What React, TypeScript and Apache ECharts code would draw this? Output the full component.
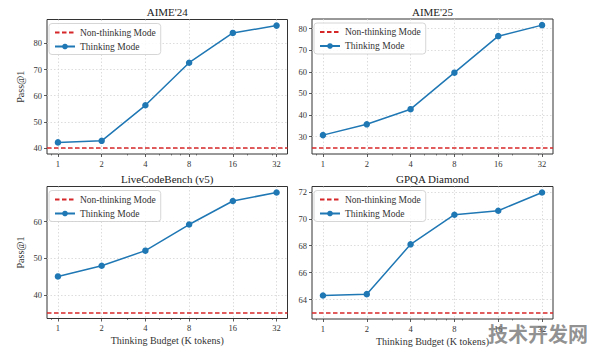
import React, { useEffect, useRef } from "react";
import * as echarts from "echarts";

const budgets = [1, 2, 4, 8, 16, 32];
const minorBudgets = [0.9, 3, 5, 6, 7, 9, 20, 30];
const titles = ["AIME'24", "AIME'25", "LiveCodeBench (v5)", "GPQA Diamond"];
const aime24Thinking = [42.1, 42.7, 56.3, 72.6, 84.0, 86.8];
const aime25Thinking = [30.7, 35.7, 42.7, 59.6, 76.5, 81.6];
const lcbThinking = [45.1, 48.0, 52.1, 59.2, 65.6, 67.9];
const gpqaThinking = [64.3, 64.4, 68.1, 70.3, 70.6, 71.95];
const nonThinking = [40.0, 24.8, 35.3, 63.0];
const yTicks = [
  [40, 50, 60, 70, 80],
  [30, 40, 50, 60, 70, 80],
  [40, 50, 60],
  [64, 66, 68, 70, 72],
];
const thinkingSeries = [aime24Thinking, aime25Thinking, lcbThinking, gpqaThinking];
const xName = "Thinking Budget (K tokens)";
const yName = "Pass@1";
const watermark = "技术开发网";

const FONT = "'Liberation Serif', 'DejaVu Serif', serif";
const BLUE = "#1f77b4";
const RED = "#d62728";

const grids = [
  { left: 47, top: 19.5, width: 240.5, height: 134.5 },
  { left: 312, top: 19, width: 241, height: 135 },
  { left: 47, top: 186.5, width: 240.5, height: 132 },
  { left: 312, top: 186.5, width: 241, height: 132.5 },
];

export default function App() {
  const ref = useRef<HTMLDivElement>(null);
  useEffect(() => {
    if (!ref.current) return;
    const chart = echarts.init(ref.current, undefined, { renderer: "svg" });
    const xMin = Math.pow(2, -0.25);
    const xMax = Math.pow(2, 5.25);

    const xAxes: any[] = [];
    const yAxes: any[] = [];
    const series: any[] = [];
    const legends: any[] = [];
    const titleOpts: any[] = [];

    thinkingSeries.forEach((vals, i) => {
      const g = grids[i];
      const lo = Math.min(nonThinking[i], ...vals);
      const hi = Math.max(nonThinking[i], ...vals);
      const span = hi - lo;
      const isBottom = i >= 2;
      const isLeft = i % 2 === 0;
      xAxes.push({
        type: "log",
        logBase: 2,
        gridIndex: i,
        min: xMin,
        max: xMax,
        name: isBottom ? xName : "",
        nameLocation: "middle",
        nameGap: 17,
        nameTextStyle: { fontFamily: FONT, fontSize: 10, color: "#333" },
        axisLine: { show: false },
        axisTick: { show: true, length: 3, customValues: budgets, lineStyle: { color: "#333", width: 0.8 } },
        axisLabel: {
          customValues: budgets,
          margin: 5,
          fontFamily: FONT,
          fontSize: 8.5,
          color: "#333",
          formatter: (v: number) => String(Math.round(v)),
        },
        splitLine: { show: true, lineStyle: { color: "#d4d4d4", type: [1.5, 2], width: 0.8 } },
        minorTick: { show: false },
      });
      xAxes.push({
        type: "log",
        logBase: 2,
        gridIndex: i,
        min: xMin,
        max: xMax,
        position: "bottom",
        axisLine: { show: false },
        axisTick: { show: true, length: 1.5, customValues: minorBudgets, lineStyle: { color: "#333", width: 0.6 } },
        axisLabel: { show: false },
        splitLine: { show: false },
      });
      yAxes.push({
        type: "value",
        gridIndex: i,
        min: lo - 0.05 * span,
        max: hi + 0.05 * span,
        name: isLeft ? yName : "",
        nameLocation: "middle",
        nameGap: 22,
        nameTextStyle: { fontFamily: FONT, fontSize: 10, color: "#333" },
        axisLine: { show: false },
        axisTick: { show: true, length: 3, customValues: yTicks[i], lineStyle: { color: "#333", width: 0.8 } },
        axisLabel: {
          customValues: yTicks[i],
          margin: 5,
          fontFamily: FONT,
          fontSize: 8.5,
          color: "#333",
        },
        splitLine: { show: true, lineStyle: { color: "#d4d4d4", type: [1.5, 2], width: 0.8 } },
      });
      series.push({
        type: "line",
        name: "Non-thinking Mode",
        xAxisIndex: 2 * i,
        yAxisIndex: i,
        data: [],
        symbol: "none",
        itemStyle: { color: RED },
        lineStyle: { color: RED, type: [4.5, 2.5], width: 1.5 },
        markLine: {
          silent: true,
          symbol: "none",
          label: { show: false },
          lineStyle: { color: RED, type: [4.5, 2.5], width: 1.5 },
          data: [{ yAxis: nonThinking[i] }],
        },
      });
      series.push({
        type: "line",
        name: "Thinking Mode",
        xAxisIndex: 2 * i,
        yAxisIndex: i,
        data: budgets.map((b, k) => [b, vals[k]]),
        symbol: "circle",
        symbolSize: 6.5,
        itemStyle: { color: BLUE },
        lineStyle: { color: BLUE, width: 1.5 },
      });
      legends.push({
        orient: "vertical",
        left: g.left + 2,
        top: g.top + 4,
        itemWidth: 20,
        itemHeight: 7,
        itemGap: 4,
        padding: [4, 5, 3, 5],
        borderColor: "#cccccc",
        borderWidth: 0.8,
        borderRadius: 3,
        backgroundColor: "rgba(255,255,255,0.85)",
        textStyle: { fontFamily: FONT, fontSize: 9.5, color: "#333" },
        data: [
          {
            name: "Non-thinking Mode",
            itemStyle: { color: "rgba(0,0,0,0)", borderColor: "rgba(0,0,0,0)", borderWidth: 0 },
          },
          { name: "Thinking Mode" },
        ],
        selectedMode: false,
      });
      titleOpts.push({
        text: titles[i],
        left: g.left + g.width / 2,
        top: isBottom ? 173 : 6,
        padding: 0,
        textAlign: "center",
        textStyle: { fontFamily: FONT, fontSize: 11, fontWeight: "normal", color: "#222" },
      });
    });

    chart.setOption({
      animation: false,
      backgroundColor: "#ffffff",
      title: titleOpts,
      grid: grids.map((g) => ({
        ...g,
        show: true,
        borderColor: "#333",
        borderWidth: 1,
        backgroundColor: "transparent",
      })),
      xAxis: xAxes,
      yAxis: yAxes,
      legend: legends,
      series,
      graphic: [
        {
          type: "text",
          right: 8,
          bottom: 10,
          style: {
            text: watermark,
            font: "bold 20px 'Noto Sans CJK SC'",
            fill: "rgba(110,110,110,0.75)",
          },
          z: 100,
        },
      ],
    });
    return () => chart.dispose();
  }, []);
  return <div ref={ref} style={{ width: 596, height: 353, position: "absolute", left: 0, top: 0 }} />;
}
